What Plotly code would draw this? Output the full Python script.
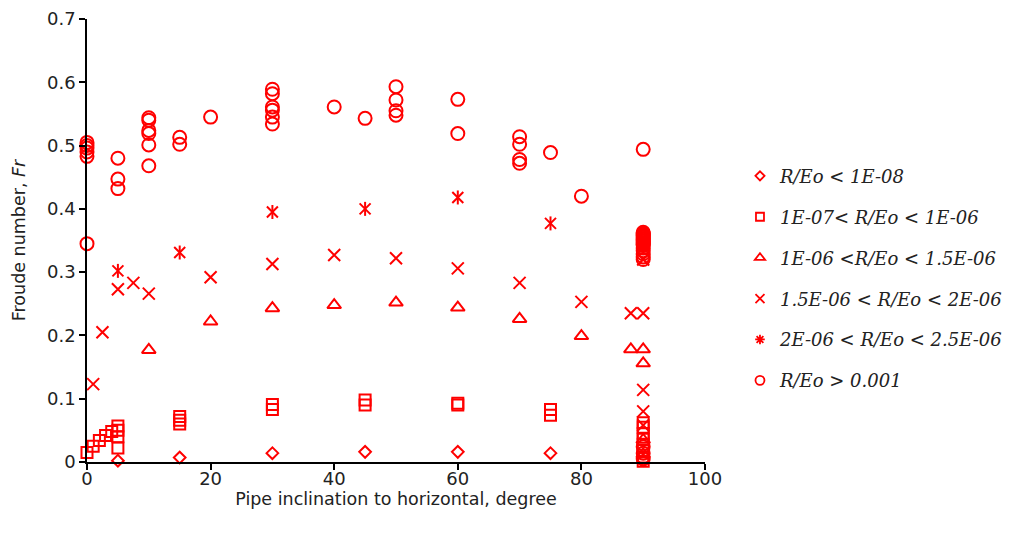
import plotly.graph_objects as go

RED = "#FF0000"

# --- Froude number vs pipe inclination, grouped by R/Eo range ---

# R/Eo < 1E-08
diamond_x = [5, 15, 30, 45, 60, 75, 90]
diamond_y = [0.002, 0.007, 0.014, 0.016, 0.016, 0.014, 0.003]

# 1E-07 < R/Eo < 1E-06
square_x = [0, 1, 2, 3, 4, 5, 5, 5, 5,
            15, 15, 15, 30, 30, 45, 45, 60, 60, 75, 75,
            90, 90, 90, 90, 90, 90, 90, 90]
square_y = [0.015, 0.025, 0.034, 0.042, 0.048, 0.057, 0.050, 0.040, 0.022,
            0.072, 0.066, 0.060, 0.091, 0.083, 0.098, 0.090, 0.093, 0.090, 0.083, 0.074,
            0.062, 0.055, 0.045, 0.036, 0.028, 0.018, 0.008, 0.001]

# 1E-06 < R/Eo < 1.5E-06
triangle_x = [10, 20, 30, 40, 50, 60, 70, 80, 88, 90, 90, 90, 90]
triangle_y = [0.177, 0.222, 0.243, 0.248, 0.252, 0.244, 0.226, 0.199, 0.178, 0.178, 0.156,
              0.035, 0.012]

# 1.5E-06 < R/Eo < 2E-06
cross_x = [1, 2.5, 5, 7.5, 10, 20, 30, 40, 50, 60, 70, 80, 88, 90, 90, 90, 90, 90]
cross_y = [0.123, 0.205, 0.273, 0.283, 0.266, 0.292, 0.313, 0.327, 0.322, 0.306, 0.283,
           0.253, 0.235, 0.235, 0.320, 0.114, 0.080, 0.058]

# 2E-06 < R/Eo < 2.5E-06
star_x = [5, 15, 30, 45, 60, 75]
star_y = [0.302, 0.331, 0.395, 0.400, 0.418, 0.377]

# R/Eo > 0.001
circle_x = [0, 0, 0, 0, 0, 0,
            5, 5, 5,
            10, 10, 10, 10, 10, 10,
            15, 15, 20,
            30, 30, 30, 30, 30, 30,
            40, 45, 50, 50, 50, 50,
            60, 60, 70, 70, 70, 70, 75, 80,
            90,
            90, 90, 90, 90, 90, 90, 90, 90, 90, 90,
            90, 90, 90, 90, 90, 90, 90, 90, 90, 90,
            90, 90]
circle_y = [0.505, 0.500, 0.496, 0.490, 0.483, 0.345,
            0.480, 0.447, 0.432,
            0.544, 0.540, 0.524, 0.519, 0.501, 0.468,
            0.513, 0.502, 0.545,
            0.589, 0.582, 0.561, 0.556, 0.545, 0.534,
            0.561, 0.543, 0.593, 0.572, 0.555, 0.548,
            0.573, 0.519, 0.514, 0.502, 0.478, 0.472, 0.489, 0.420,
            0.494,
            0.363, 0.361, 0.360, 0.358, 0.357, 0.355, 0.353, 0.352, 0.350, 0.349,
            0.347, 0.345, 0.344, 0.342, 0.338, 0.334, 0.329, 0.324, 0.320, 0.024,
            0.014, 0.005]

legend_names = [
    "R/Eo < 1E-08",
    "1E-07< R/Eo < 1E-06",
    "1E-06 <R/Eo < 1.5E-06",
    "1.5E-06 < R/Eo < 2E-06",
    "2E-06 < R/Eo < 2.5E-06",
    "R/Eo > 0.001",
]

x_ticks = [0, 20, 40, 60, 80, 100]
y_ticks = [0, 0.1, 0.2, 0.3, 0.4, 0.5, 0.6, 0.7]

LW = 2
SANS = "DejaVu Sans, Arial, sans-serif"


def marker(symbol, size, width=LW):
    return dict(symbol=symbol, size=size, color=RED, line=dict(color=RED, width=width))


fig = go.Figure()


def add_points(x, y, name, symbol, size, group):
    fig.add_trace(go.Scatter(
        x=x, y=y, mode="markers", name=name, legendgroup=group,
        showlegend=False, cliponaxis=False,
        marker=marker(symbol, size), hoverinfo="x+y",
    ))


def add_key(name, symbol, size, group):
    # legend entry with a smaller key symbol than the plotted points
    fig.add_trace(go.Scatter(
        x=[None], y=[None], mode="markers", name=name, legendgroup=group,
        marker=marker(symbol, size, 1.8),
    ))


add_points(diamond_x, diamond_y, legend_names[0], "diamond-open", 9, "g1")
add_points(square_x, square_y, legend_names[1], "square-open", 11, "g2")
add_points(triangle_x, triangle_y, legend_names[2], "triangle-up-open", 12, "g3")
add_points(cross_x, cross_y, legend_names[3], "x-thin-open", 12, "g4")
# six-spoke star: an x with a vertical bar through it
add_points(star_x, star_y, legend_names[4], "x-thin-open", 11, "g5")
add_points(star_x, star_y, legend_names[4], "line-ns-open", 10, "g5")
add_points(circle_x, circle_y, legend_names[5], "circle-open", 13, "g6")

add_key(legend_names[0], "diamond-open", 7, "g1")
add_key(legend_names[1], "square-open", 8, "g2")
add_key(legend_names[2], "triangle-up-open", 9, "g3")
add_key(legend_names[3], "x-thin-open", 9, "g4")
add_key(legend_names[4], "asterisk-open", 8, "g5")
add_key(legend_names[5], "circle-open", 9, "g6")

axis_common = dict(
    showline=True, linecolor="black", linewidth=1.5,
    ticks="outside", ticklen=6, tickwidth=1.5, tickcolor="black",
    showgrid=False, zeroline=False,
    tickfont=dict(family=SANS, size=18, color="#222"),
    title_font=dict(family=SANS, size=17.5, color="#222"),
)

fig.update_xaxes(
    range=[0, 100], tickvals=x_ticks, ticktext=[str(v) for v in x_ticks],
    title_text="Pipe inclination to horizontal, degree", title_standoff=1,
    ticklabelstandoff=-6,
    **axis_common,
)
fig.update_yaxes(
    range=[0, 0.7], tickvals=y_ticks, ticktext=["0" if v == 0 else f"{v:.1f}" for v in y_ticks],
    title_text="Froude number, <i>Fr</i>", title_standoff=17,
    **axis_common,
)

fig.update_layout(
    width=1009, height=533,
    margin=dict(l=87, r=304, t=19, b=71, autoexpand=False),
    plot_bgcolor="white", paper_bgcolor="white",
    legend=dict(
        x=1.0566, xanchor="left", y=0.687, yanchor="top",
        traceorder="grouped", tracegroupgap=14.5,
        font=dict(family="DejaVu Serif, serif", size=18, color="#222", style="italic"),
        bgcolor="rgba(0,0,0,0)",
    ),
)

fig.write_html("out.html")
